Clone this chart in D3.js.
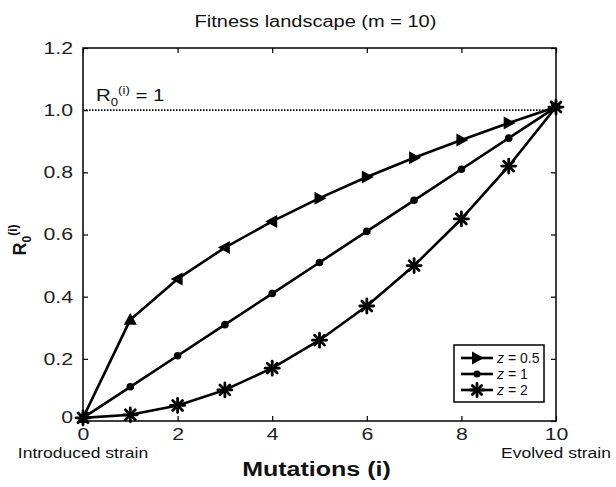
<!DOCTYPE html>
<html>
<head>
<meta charset="utf-8">
<script src="https://cdn.jsdelivr.net/npm/d3@7"></script>
<style>
  body { margin: 0; background: #fff; }
  svg { font-family: "Liberation Sans", Arial, Helvetica, sans-serif; }
</style>
</head>
<body>
<div id="chart"></div>
<script>
/* --- Data --- */
const mutations = [0, 1, 2, 3, 4, 5, 6, 7, 8, 9, 10];
const zHalf = [0.01, 0.326, 0.457, 0.558, 0.642, 0.717, 0.785, 0.847, 0.904, 0.959, 1.01];
const zOne = [0.01, 0.11, 0.21, 0.31, 0.41, 0.51, 0.61, 0.71, 0.81, 0.91, 1.01];
const zTwo = [0.01, 0.02, 0.05, 0.10, 0.17, 0.26, 0.37, 0.50, 0.65, 0.82, 1.01];
// direction the triangle markers point for z = 0.5
const triDir = ["up", "up", "left", "left", "left", "right", "right", "right", "right", "right", "right"];
const xTicks = [0, 2, 4, 6, 8, 10];
const yTicks = [0, 0.2, 0.4, 0.6, 0.8, 1.0, 1.2];
const seriesNames = ["0.5", "1", "2"];

const W = 616, H = 487;
const margin = { top: 48, right: 60, bottom: 66, left: 83 };
const iw = W - margin.left - margin.right;
const ih = H - margin.top - margin.bottom;
const WIDE = 1.25; // the reference type is drawn a bit wide

const svg = d3.select("#chart").append("svg")
    .attr("width", W).attr("height", H);

// widen text horizontally to match the reference
function stretch(sel, k) {
    sel.each(function () {
        const len = this.getComputedTextLength();
        d3.select(this).attr("textLength", len * k).attr("lengthAdjust", "spacingAndGlyphs");
    });
}

const x = d3.scaleLinear().domain([0, 10]).range([margin.left, margin.left + iw]);
const y = d3.scaleLinear().domain([0, 1.2]).range([margin.top + ih, margin.top]);

const g = svg.append("g");

// frame
g.append("rect")
    .attr("x", x(0)).attr("y", y(1.2))
    .attr("width", x(10) - x(0)).attr("height", y(0) - y(1.2))
    .attr("fill", "none").attr("stroke", "#000").attr("stroke-width", 1.5);

// axes (ticks pointing inward, MATLAB style)
const tickFmt = d => d === 0 ? "0" : d3.format(".1f")(d);
const axB = g.append("g").attr("transform", `translate(0,${y(0)})`)
    .call(d3.axisBottom(x).tickValues(xTicks).tickSize(-5).tickPadding(7).tickFormat(d3.format("d")));
const axT = g.append("g").attr("transform", `translate(0,${y(1.2)})`)
    .call(d3.axisTop(x).tickValues(xTicks).tickSize(-5).tickFormat(""));
const axL = g.append("g").attr("transform", `translate(${x(0)},0)`)
    .call(d3.axisLeft(y).tickValues(yTicks).tickSize(-5).tickPadding(10).tickFormat(tickFmt));
const axR = g.append("g").attr("transform", `translate(${x(10)},0)`)
    .call(d3.axisRight(y).tickValues(yTicks).tickSize(-5).tickFormat(""));
[axB, axT, axL, axR].forEach(a => {
    a.select(".domain").remove();
    a.selectAll("line").attr("stroke", "#000").attr("stroke-width", 1.2);
    a.selectAll("text").attr("fill", "#222").style("font-size", "17px")
        .style("font-family", "'Liberation Sans', Arial, sans-serif");
});
axL.selectAll(".tick").filter(d => d === 0).select("text").attr("dy", "0.1em");
stretch(axB.selectAll("text"), WIDE);
stretch(axL.selectAll("text"), WIDE);

// reference line R0 = 1
g.append("line")
    .attr("x1", x(0)).attr("x2", x(10)).attr("y1", y(1)).attr("y2", y(1))
    .attr("stroke", "#000").attr("stroke-width", 1.6).attr("stroke-dasharray", "1.5,1.5");

const refLbl = svg.append("text")
    .attr("transform", `translate(${x(0) + 13},${y(1) - 9}) scale(1.2,1)`)
    .style("font-size", "17px").attr("fill", "#111");
refLbl.append("tspan").text("R");
refLbl.append("tspan").attr("dy", 5).style("font-size", "11px").text("0");
refLbl.append("tspan").attr("dy", -12).style("font-size", "11px").text("(i)");
refLbl.append("tspan").attr("dy", 7).text(" = 1");

// lines
const line = d3.line().x((d, i) => x(mutations[i])).y(d => y(d));
[zHalf, zOne, zTwo].forEach(s => {
    g.append("path").datum(s).attr("d", line)
        .attr("fill", "none").attr("stroke", "#000").attr("stroke-width", 2.6)
        .attr("stroke-linejoin", "round");
});

// markers
const rot = { up: 0, right: 90, down: 180, left: 270 };
const triPath = "M0,-7L6.5,5L-6.5,5Z";
function asterisk(sel, r) {
    [0, 45, 90, 135].forEach(a => {
        sel.append("line").attr("x1", 0).attr("x2", 0).attr("y1", -r).attr("y2", r)
            .attr("transform", `rotate(${a})`)
            .attr("stroke", "#000").attr("stroke-width", 2.8).attr("stroke-linecap", "round");
    });
}

g.selectAll(".tri").data(zHalf).enter().append("path")
    .attr("class", "tri")
    .attr("d", triPath)
    .attr("transform", (d, i) => `translate(${x(mutations[i])},${y(d)}) rotate(${rot[triDir[i]]})`)
    .attr("fill", "#000");

g.selectAll(".dot").data(zOne).enter().append("circle")
    .attr("class", "dot")
    .attr("cx", (d, i) => x(mutations[i])).attr("cy", d => y(d))
    .attr("r", 3.8).attr("fill", "#000");

g.selectAll(".ast").data(zTwo).enter().append("g")
    .attr("class", "ast")
    .attr("transform", (d, i) => `translate(${x(mutations[i])},${y(d)})`)
    .each(function () { asterisk(d3.select(this), 7); });

// legend
const lg = svg.append("g").attr("transform", "translate(454,345)");
lg.append("rect").attr("width", 90).attr("height", 57)
    .attr("fill", "#fff").attr("stroke", "#000").attr("stroke-width", 1.5);
seriesNames.forEach((name, k) => {
    const yy = 13 + k * 16;
    lg.append("line").attr("x1", 7).attr("x2", 39).attr("y1", yy).attr("y2", yy)
        .attr("stroke", "#000").attr("stroke-width", 2.6);
    const m = lg.append("g").attr("transform", `translate(23,${yy})`);
    if (k === 0) m.append("path").attr("d", triPath).attr("transform", "rotate(90)").attr("fill", "#000");
    else if (k === 1) m.append("circle").attr("r", 3.5).attr("fill", "#000");
    else asterisk(m, 6.5);
    const t = lg.append("text").attr("x", 43).attr("y", yy + 5).style("font-size", "14px").attr("fill", "#111");
    t.append("tspan").style("font-style", "italic").text("z");
    t.append("tspan").text(" = " + name);
});

// title and axis labels
const title = svg.append("text").attr("x", x(5) - 4).attr("y", 27).attr("text-anchor", "middle")
    .style("font-size", "16px").attr("fill", "#111").text("Fitness landscape (m = 10)");
stretch(title, WIDE);

const xl = svg.append("text").attr("x", x(5) - 3).attr("y", 476).attr("text-anchor", "middle")
    .style("font-size", "20px").style("font-weight", "bold").attr("fill", "#111").text("Mutations (i)");
stretch(xl, WIDE);

const ends = svg.selectAll(".endlbl").data([[0, "Introduced strain"], [10, "Evolved strain"]])
    .enter().append("text").attr("class", "endlbl")
    .attr("x", d => x(d[0])).attr("y", 458).attr("text-anchor", "middle")
    .style("font-size", "14px").attr("fill", "#111").text(d => d[1]);
stretch(ends, WIDE);

const yl = svg.append("text").attr("transform", `translate(26,240) rotate(-90)`)
    .attr("text-anchor", "middle").style("font-size", "18px").style("font-weight", "bold").attr("fill", "#111");
yl.append("tspan").text("R");
yl.append("tspan").attr("dy", 5).style("font-size", "12px").text("0");
yl.append("tspan").attr("dy", -14).style("font-size", "12px").text("(i)");
</script>
</body>
</html>
